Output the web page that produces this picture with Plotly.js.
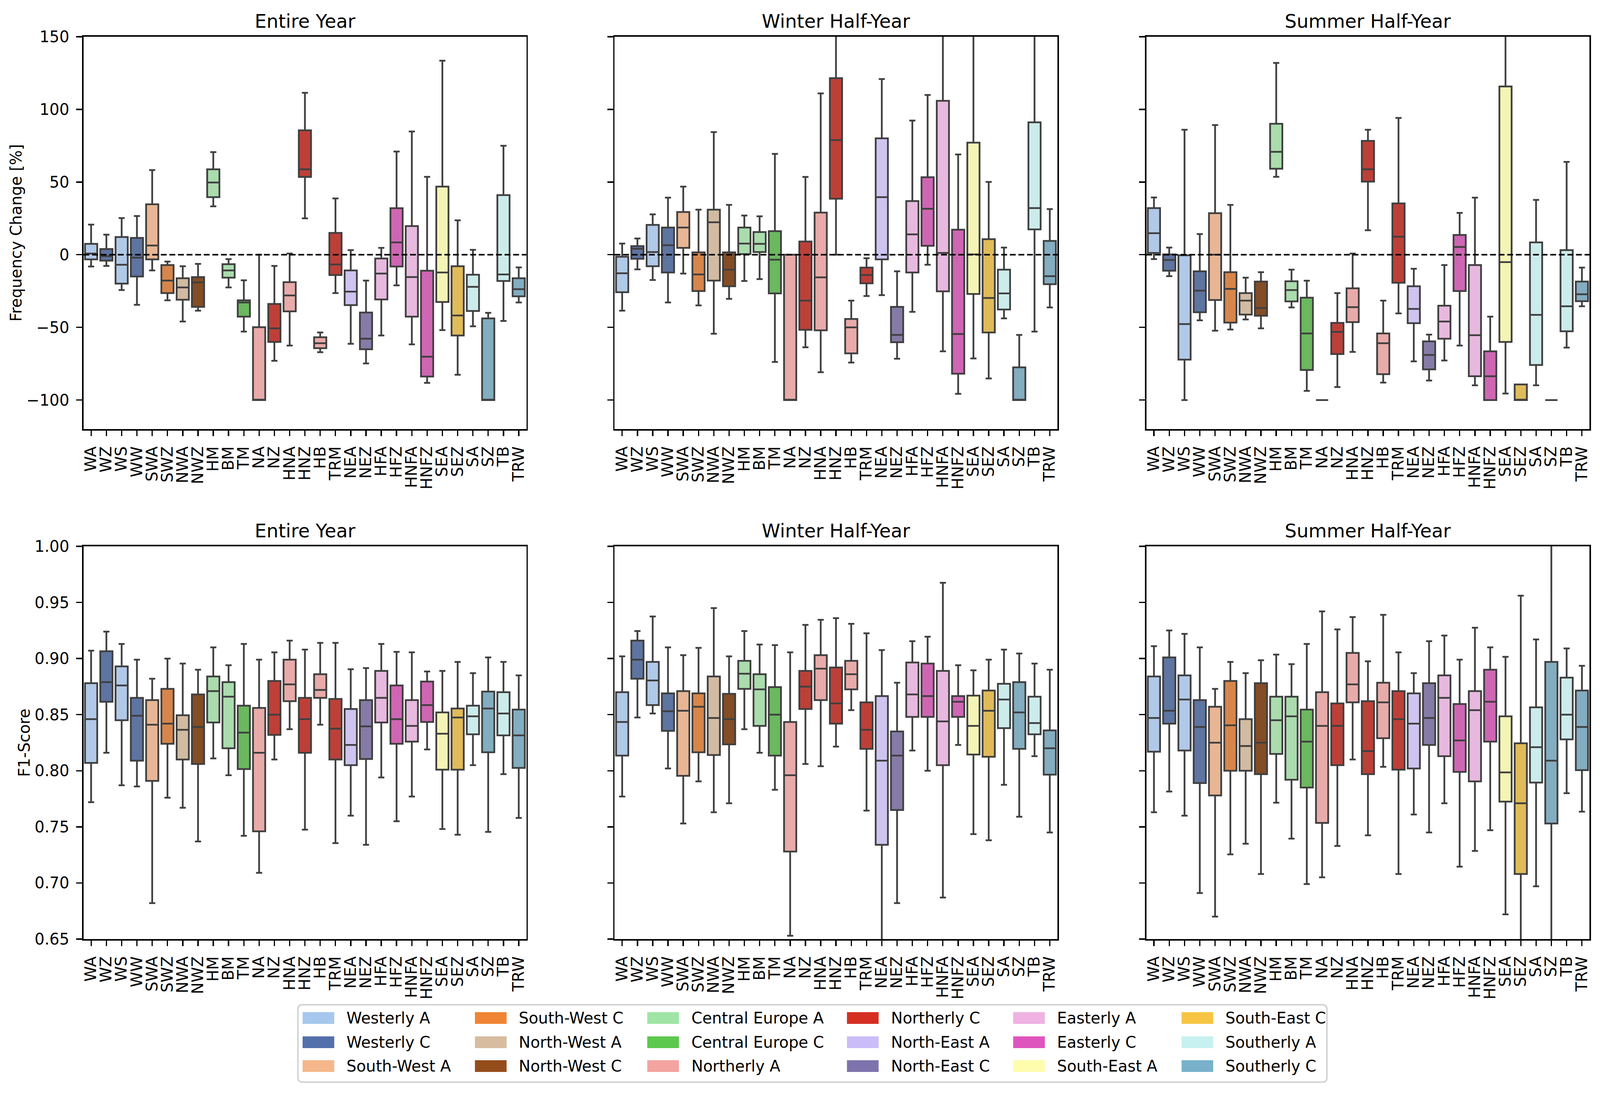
<!DOCTYPE html>
<html>
<head>
<meta charset="utf-8">
<script src="https://cdn.plot.ly/plotly-3.0.1.min.js"></script>
<style>html,body{margin:0;padding:0;background:#fff;overflow:hidden}</style>
</head>
<body>
<div id="chart"></div>
<script>
const categories = ["WA","WZ","WS","WW","SWA","SWZ","NWA","NWZ","HM","BM","TM","NA","NZ","HNA","HNZ","HB","TRM","NEA","NEZ","HFA","HFZ","HNFA","HNFZ","SEA","SEZ","SA","SZ","TB","TRW"];
const categoryGroup = [0,1,0,1,2,3,4,5,6,6,7,8,9,8,9,8,9,10,11,12,13,12,13,14,15,16,17,16,17];
const legendNames = ["Westerly A","Westerly C","South-West A","South-West C","North-West A","North-West C","Central Europe A","Central Europe C","Northerly A","Northerly C","North-East A","North-East C","Easterly A","Easterly C","South-East A","South-East C","Southerly A","Southerly C"];
const legendColors = ["#A6C8EE","#5470AC","#F5B78A","#F08533","#D7BC9F","#954C1B","#A0E5A5","#5CC84E","#F4A3A0","#D52F23","#CABCF8","#7E73AC","#EFB2E2","#DF55BE","#FDFDAD","#F7C544","#C6F1F0","#79B1CA"];
const boxColors = ["#B1C9E8","#5E74A1","#E8B694","#D7864B","#D2BBA2","#834D26","#AADCAD","#6BB85F","#E8ABA9","#BD4038","#CFC4F0","#857BA6","#E8B9DE","#CE66B4","#F4F4B6","#E0BB5A","#CCECEB","#83ADC0"];
const panelTitles = ["Entire Year","Winter Half-Year","Summer Half-Year"];
// Each row: upper whisker, Q3, median, Q1, lower whisker
const freqEntire = [
[20.7,7.5,0.8,-3.2,-8.1],[13.8,3.9,-1,-4.1,-7.7],[25.2,12.2,-6.9,-19.9,-24.3],[26.6,11.6,-2,-15,-34.5],[58.2,34.7,6.3,-3.2,-10.8],
[-4.7,-7.1,-17.8,-26.4,-31.4],[-7.9,-16.2,-22.5,-31,-46],[-6.3,-15.4,-19.1,-35.9,-38.5],[70.6,58.8,49.7,39.6,33.3],[-3,-6.5,-10.8,-15.8,-22.5],
[-17.6,-31.4,-32.9,-42.6,-52.9],[0,-49.9,-100,-100,-100],[-7.7,-33.9,-50.7,-60,-73],[0.8,-18.9,-28,-39,-62.5],[111.4,85.6,58.8,53.5,25],
[-53.5,-56.8,-60.9,-64.3,-67.1],[38.7,15,-6.7,-14,-26.4],[3.2,-10.8,-25.4,-34.7,-61.3],[-17.8,-39.8,-57.8,-65.1,-74.8],[4.7,-2.6,-13,-30.8,-55.6],
[71,32,8.5,-8.1,-21.1],[84.8,19.7,-15.4,-42.6,-61.7],[53.6,-11,-70.2,-83.8,-88.2],[133.5,46.9,-12.2,-32.5,-51.9],[23.7,-7.9,-41.8,-55.6,-82.6],
[3.4,-13.8,-22.1,-38.7,-49.3],[-40,-43.8,-100,-100,-100],[75,41,-13.6,-18.1,-45.6],[-8.7,-16.2,-23.7,-28.6,-32.9]];
const freqWinter = [
[7.7,-1.4,-12.8,-25.8,-38.5],[11.2,5.9,4.1,-2.8,-10.1],[27.8,20.5,1.8,-7.9,-17.4],[39.3,18.7,6.5,-12.2,-32.9],[46.9,29.4,18.7,4.7,-13],
[31,1.6,-13.6,-25,-34.9],[84.4,31,22.3,-17.8,-54.4],[34.3,1.6,-10.3,-21.7,-30.4],[27,18.7,7.7,0.4,-18.1],[26.4,15.6,7.5,1.8,-16.8],
[69.4,16.2,-3.4,-26.6,-73.8],[0,0,-100,-100,-100],[53.5,9.1,-31.6,-51.7,-63.7],[111,29,-15.6,-52,-80.9],[165,121.5,78.9,38.5,0],
[-31.6,-44.2,-50,-67.9,-74.2],[-2.4,-8.9,-14,-19.7,-28.4],[120.9,80.1,39.6,-3.2,-27.8],[-11.4,-35.9,-55.2,-60.2,-71.6],[92.3,36.9,14,-12.2,-39.3],
[109.9,53.3,31.6,6.1,-6.9],[175,105.9,1.2,-25.2,-66.5],[69,17.2,-54.6,-81.9,-95.7],[170,77.1,0.2,-27,-71.4],[50.1,10.7,-29.8,-53.5,-85.2],
[4.9,-10.3,-26.6,-37.7,-43.8],[-55.2,-77.5,-100,-100,-100],[170,91.1,32.1,17.4,-52.9],[31.4,9.5,-14.8,-20.3,-36.3]];
const freqSummer = [
[39.4,32.1,14.8,1.2,-3],[4.9,0.2,-3.6,-11,-14.8],[86,-0.4,-47.7,-72.2,-100],[14.2,-11.4,-24.7,-39.6,-45.2],[89.2,28.6,0,-31.2,-52.3],
[34.3,-12,-23.5,-46.7,-51.5],[-15.8,-26.4,-31.6,-41.2,-44.6],[-12,-18.5,-36.7,-42,-50.7],[132,90.1,70.8,59.2,53.6],[-10.3,-18.3,-24.3,-32.1,-36.3],
[-17.9,-29.6,-54.2,-79.3,-93.7],[-100,-100,-100,-100,-100],[-26.4,-46.9,-53.1,-68.4,-91.1],[0.8,-23.1,-36.1,-46.4,-66.9],[86,78.3,58.8,50.3,16.8],
[-31.6,-54.2,-60.9,-82.2,-88],[94.1,35.3,12.4,-19.3,-40.4],[-9.7,-21.7,-37.3,-47.1,-73.4],[-55,-59.6,-69,-78.9,-86.6],[-7.1,-35.1,-46,-57.8,-72.8],
[28.8,13.6,5.3,-25,-62.5],[39.3,-7.1,-55.4,-83.6,-89.9],[-42.6,-66.5,-83.6,-100,-100],[175,115.8,-5.1,-60,-95.5],[-89.3,-89.3,-100,-100,-100],
[37.7,8.5,-41.4,-75.9,-89.9],[-100,-100,-100,-100,-100],[63.9,3.2,-35.5,-52.7,-63.9],[-8.9,-18.5,-27.2,-32,-35.5]];
const f1Entire = [
[.907,.878,.846,.807,.772],[.924,.9065,.879,.8615,.816],[.913,.893,.876,.845,.787],[.899,.865,.849,.809,.786],[.882,.863,.841,.791,.682],
[.900,.873,.842,.824,.776],[.8955,.8495,.8365,.810,.767],[.890,.868,.839,.806,.737],[.910,.884,.871,.843,.811],[.894,.879,.866,.820,.796],
[.913,.858,.834,.8015,.742],[.899,.856,.816,.746,.709],[.9055,.880,.850,.832,.810],[.916,.899,.877,.862,.837],[.908,.865,.846,.816,.7475],
[.914,.886,.872,.865,.841],[.914,.864,.8375,.810,.7355],[.8905,.855,.823,.805,.760],[.8915,.863,.8395,.8105,.734],[.913,.889,.865,.843,.794],
[.906,.876,.846,.824,.755],[.9055,.863,.840,.826,.777],[.8885,.8795,.8585,.8435,.819],[.889,.852,.833,.801,.748],[.897,.8555,.8475,.801,.743],
[.887,.858,.8485,.8325,.805],[.901,.8705,.8555,.8165,.7455],[.897,.870,.851,.8315,.797],[.885,.8545,.8315,.8025,.758]];
const f1Winter = [
[.902,.870,.8435,.8135,.777],[.9245,.916,.899,.882,.8475],[.9375,.897,.8805,.8585,.851],[.910,.869,.853,.8355,.802],[.903,.871,.8535,.7955,.753],
[.9095,.869,.857,.8165,.7905],[.945,.884,.847,.814,.763],[.902,.8685,.846,.8235,.771],[.9245,.898,.8865,.873,.837],[.9125,.886,.8725,.840,.816],
[.912,.8745,.850,.8135,.783],[.9055,.8435,.796,.728,.653],[.930,.889,.875,.855,.806],[.9345,.903,.891,.863,.804],[.936,.892,.860,.842,.8215],
[.931,.898,.886,.8725,.854],[.9225,.861,.8365,.8195,.7645],[.9075,.8665,.809,.734,.62],[.8785,.835,.8135,.765,.682],[.9155,.8965,.868,.848,.818],
[.9195,.8955,.8665,.848,.800],[.9675,.889,.844,.805,.687],[.894,.8665,.8615,.848,.823],[.8895,.867,.840,.8145,.7435],[.899,.8715,.8535,.8125,.738],
[.908,.8775,.8635,.838,.7875],[.9045,.879,.852,.8195,.759],[.8955,.866,.8425,.8325,.813],[.890,.836,.820,.7965,.745]];
const f1Summer = [
[.911,.884,.847,.817,.763],[.925,.901,.8535,.842,.7815],[.922,.885,.8635,.818,.760],[.910,.863,.839,.789,.691],[.873,.857,.825,.778,.670],
[.897,.880,.8405,.800,.7255],[.887,.846,.822,.800,.735],[.8985,.878,.825,.797,.708],[.9035,.866,.845,.815,.7715],[.895,.866,.8485,.792,.7395],
[.913,.8545,.826,.785,.699],[.942,.870,.840,.7535,.705],[.926,.860,.840,.805,.733],[.937,.905,.877,.861,.810],[.8975,.862,.8175,.797,.7425],
[.939,.8785,.861,.829,.8035],[.9055,.871,.846,.801,.708],[.887,.869,.842,.802,.761],[.9155,.878,.847,.823,.745],[.9205,.885,.865,.813,.771],
[.899,.8595,.827,.799,.7145],[.9275,.871,.854,.7905,.7285],[.910,.890,.8615,.826,.747],[.9015,.8485,.7985,.7725,.672],[.956,.8245,.771,.708,.63],
[.917,.8565,.821,.7895,.697],[1.02,.897,.809,.753,.63],[.909,.883,.850,.828,.78],[.8935,.8715,.839,.8005,.7635]];

const panels = [freqEntire,freqWinter,freqSummer,f1Entire,f1Winter,f1Summer];

// The layout is defined on the 4447x2802 reference and fitted to the actual window.
const REF_W = 4447, REF_H = 2802;
const W = Math.min(window.innerWidth, REF_W), H = Math.min(window.innerHeight, REF_H);
const sx = W/REF_W, sy = H/REF_H, fs = Math.sqrt(sx*sy);
const chartDiv = document.getElementById("chart");
chartDiv.style.width = W+"px"; chartDiv.style.height = H+"px";
const px = v => v / REF_W, py = v => 1 - v / REF_H;
const colX = [[232,1463],[1708,2939],[3186,4418]];
const rowY = [[94,1098],[1398,2403]];
const font = "DejaVu Sans";
const edge = "#3f3f3f";
const tickSize = 41.67*fs, titleSize = 50*fs;

const traces = [];
const layout = {
  width: W, height: H, margin: {l:0,r:0,t:0,b:0,pad:0}, paper_bgcolor:"#fff", plot_bgcolor:"#fff",
  showlegend:false, boxmode:"overlay", font:{family:font,size:tickSize,color:"#000"},
  annotations:[], shapes:[]
};

panels.forEach((rows,i)=>{
  const col = i%3, row = Math.floor(i/3), n = i+1, sfx = n===1?"":String(n);
  rows.forEach((r,c)=>{
    const g = categoryGroup[c];
    traces.push({
      type:"box", name:legendNames[g], x:[categories[c]], xaxis:"x"+sfx, yaxis:"y"+sfx,
      upperfence:[r[0]], q3:[r[1]], median:[r[2]], q1:[r[3]], lowerfence:[r[4]],
      boxpoints:false, width:0.8, whiskerwidth:0.5, fillcolor:boxColors[g],
      line:{color:edge,width:4.5}, hoverinfo:"skip"
    });
  });
  layout["xaxis"+sfx] = {
    domain:[px(colX[col][0]),px(colX[col][1])], anchor:"y"+sfx, type:"category",
    categoryorder:"array", categoryarray:categories, range:[-0.5,28.5], tickmode:"array", tickvals:categories, ticktext:categories,
    tickangle:-90, ticks:"outside", ticklen:14.6, tickwidth:3.4, tickcolor:"#000",
    showline:true, linecolor:"#000", linewidth:3.6, mirror:true, showgrid:false, zeroline:false,
    tickfont:{family:font,size:tickSize,color:"#000"}, ticklabelstandoff:10, automargin:false
  };
  const yax = {
    domain:[py(rowY[row][1]),py(rowY[row][0])], anchor:"x"+sfx,
    ticks:"outside", ticklen:14.6, tickwidth:3.4, tickcolor:"#000",
    showline:true, linecolor:"#000", linewidth:3.6, mirror:true, showgrid:false, zeroline:false,
    tickfont:{family:font,size:tickSize,color:"#000"}, showticklabels:col===0, ticklabelstandoff:10, automargin:false
  };
  if(row===0){ yax.range=[-120,150]; yax.tickmode="linear"; yax.tick0=0; yax.dtick=50; }
  else { yax.range=[0.65,1.0]; yax.tickmode="linear"; yax.tick0=0.65; yax.dtick=0.05; yax.tickformat=".2f"; }
  if(col===0){
    yax.title = {text: row===0 ? "Frequency Change [%]" : "F1-Score", font:{family:font,size:tickSize,color:"#000"}, standoff:0};
  }
  layout["yaxis"+sfx] = yax;
  layout.annotations.push({
    text:panelTitles[col], xref:"paper", yref:"paper",
    x:px((colX[col][0]+colX[col][1])/2), y:py(rowY[row][0]-10), xanchor:"center", yanchor:"bottom",
    showarrow:false, font:{family:font,size:titleSize,color:"#000"}
  });
  if(row===0){
    layout.shapes.push({type:"line",xref:"x"+sfx+" domain",yref:"y"+sfx,x0:0,x1:1,y0:0,y1:0,layer:"above",
      line:{color:"#000",width:4,dash:"15px,7px"}});
  }
});

// legend frame, swatches and labels, three entries per column
const frame = {l:828,r:3688,t:2571,b:2769,rad:12};
const P = (x,y)=>px(x).toFixed(6)+","+py(y).toFixed(6);
layout.shapes.push({type:"path",xref:"paper",yref:"paper",fillcolor:"#fff",
  line:{color:"#d3d3d3",width:4},
  path:"M"+P(frame.l+frame.rad,frame.t)+" L"+P(frame.r-frame.rad,frame.t)+" Q"+P(frame.r,frame.t)+" "+P(frame.r,frame.t+frame.rad)+
       " L"+P(frame.r,frame.b-frame.rad)+" Q"+P(frame.r,frame.b)+" "+P(frame.r-frame.rad,frame.b)+
       " L"+P(frame.l+frame.rad,frame.b)+" Q"+P(frame.l,frame.b)+" "+P(frame.l,frame.b-frame.rad)+
       " L"+P(frame.l,frame.t+frame.rad)+" Q"+P(frame.l,frame.t)+" "+P(frame.l+frame.rad,frame.t)+" Z"});
const legendColX = [841,1320,1799,2354,2816,3284];
const legendRowY = [2605,2667,2728];
legendNames.forEach((name,k)=>{
  const cx = legendColX[Math.floor(k/3)], cy = legendRowY[k%3];
  layout.shapes.push({type:"rect",xref:"paper",yref:"paper",x0:px(cx),x1:px(cx+88),y0:py(cy+15),y1:py(cy-15),
    fillcolor:legendColors[k],line:{width:0}});
  layout.annotations.push({text:name,xref:"paper",yref:"paper",x:px(cx+120),y:py(cy),xanchor:"left",yanchor:"middle",
    showarrow:false,font:{family:font,size:tickSize,color:"#000"}});
});

Plotly.newPlot(chartDiv,traces,layout,{displayModeBar:false,responsive:false,staticPlot:true});
</script>
</body>
</html>
